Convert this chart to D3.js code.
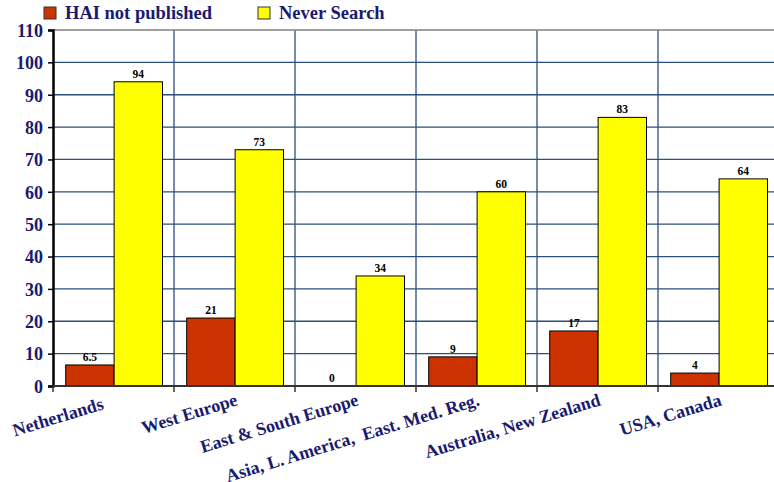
<!DOCTYPE html>
<html>
<head>
<meta charset="utf-8">
<script src="https://cdn.jsdelivr.net/npm/d3@7"></script>
<style>
  body { margin: 0; background: #fff; }
  text { font-family: "Liberation Serif", "DejaVu Serif", serif; font-weight: bold; }
</style>
</head>
<body>
<script>
// chart data
var regions = ["Netherlands   ", "West Europe", "East & South Europe",
  "Asia, L. America,  East. Med. Reg.", "Australia, New Zealand", "USA, Canada"];
var hai_not_published = [6.5, 21, 0, 9, 17, 4];
var never_search = [94, 73, 34, 60, 83, 64];
var series_names = ["HAI not published", "Never Search"];
var y_ticks = [0, 10, 20, 30, 40, 50, 60, 70, 80, 90, 100, 110];

var svg_width = 774;
var svg_height = 482;

// plot area (window.top is reserved, so use own names)
var plot_left = 53, plot_right = 779, plot_top = 30, plot_bottom = 386;
var navy = "#1a1a6e";
var colors = ["#cc3300", "#ffff00"];

var svg = d3.select("body")
  .append("svg")
  .attr("width", svg_width)
  .attr("height", svg_height);

// scales
var x_scale = d3.scaleBand()
  .domain(regions)
  .range([plot_left, plot_right]);

var y_scale = d3.scaleLinear()
  .domain([0, 110])
  .range([plot_bottom, plot_top]);

var bar_w = x_scale.bandwidth() * 0.4;
var pad = x_scale.bandwidth() * 0.105;

// horizontal gridlines
svg.selectAll(".hgrid")
  .data(y_ticks.slice(1, -1))
  .enter()
  .append("line")
  .attr("x1", plot_left).attr("x2", plot_right)
  .attr("y1", function(d) { return y_scale(d); })
  .attr("y2", function(d) { return y_scale(d); })
  .attr("stroke", "#2b4f7e")
  .attr("stroke-width", 1.3);

// vertical gridlines between categories
svg.selectAll(".vgrid")
  .data(regions.slice(1))
  .enter()
  .append("line")
  .attr("x1", function(d) { return x_scale(d); })
  .attr("x2", function(d) { return x_scale(d); })
  .attr("y1", plot_top).attr("y2", plot_bottom)
  .attr("stroke", "#2b4f7e")
  .attr("stroke-width", 1.3);

// top border
svg.append("line")
  .attr("x1", plot_left).attr("x2", plot_right)
  .attr("y1", plot_top).attr("y2", plot_top)
  .attr("stroke", "#808080")
  .attr("stroke-width", 1.5);

// bars
var series = [hai_not_published, never_search];
series.forEach(function(vals, s) {
  svg.selectAll(".bar" + s)
    .data(vals)
    .enter()
    .append("rect")
    .attr("x", function(d, i) { return x_scale(regions[i]) + pad + s * bar_w; })
    .attr("y", function(d) { return y_scale(d); })
    .attr("width", bar_w)
    .attr("height", function(d) { return plot_bottom - y_scale(d); })
    .attr("fill", colors[s])
    .attr("stroke", "#000")
    .attr("stroke-width", 1);

  svg.selectAll(".lab" + s)
    .data(vals)
    .enter()
    .append("text")
    .attr("x", function(d, i) { return x_scale(regions[i]) + pad + s * bar_w + bar_w / 2; })
    .attr("y", function(d) { return y_scale(d) - 4; })
    .attr("text-anchor", "middle")
    .attr("font-size", 11.5)
    .attr("fill", "#000")
    .text(function(d) { return d; });
});

// y axis
var y_axis = d3.axisLeft(y_scale).tickValues(y_ticks).tickSize(5).tickPadding(5);
var gy = svg.append("g")
  .attr("transform", "translate(" + plot_left + ",0)")
  .call(y_axis);
gy.select(".domain").attr("stroke", "#000").attr("stroke-width", 2.5);
gy.selectAll(".tick line").attr("stroke", "#000").attr("stroke-width", 1.5);
gy.selectAll(".tick text")
  .attr("font-size", 18)
  .attr("fill", navy)
  .attr("font-family", "Liberation Serif")
  .attr("dy", "0.35em");

// x axis (ticks at category boundaries)
svg.append("line")
  .attr("x1", plot_left).attr("x2", plot_right)
  .attr("y1", plot_bottom).attr("y2", plot_bottom)
  .attr("stroke", "#333")
  .attr("stroke-width", 2);
svg.selectAll(".xtick")
  .data(regions)
  .enter()
  .append("line")
  .attr("x1", function(d) { return x_scale(d); })
  .attr("x2", function(d) { return x_scale(d); })
  .attr("y1", plot_bottom).attr("y2", plot_bottom + 6)
  .attr("stroke", "#333")
  .attr("stroke-width", 1.5);

// rotated category labels
svg.selectAll(".xlab")
  .data(regions)
  .enter()
  .append("text")
  .attr("transform", function(d) {
    var cx = x_scale(d) + x_scale.bandwidth() / 2 + 4;
    return "translate(" + cx + "," + (plot_bottom + 19) + ") rotate(-17)";
  })
  .attr("text-anchor", "end")
  .attr("font-size", 18)
  .attr("fill", navy)
  .attr("xml:space", "preserve")
  .text(function(d) { return d; });

// legend
var legend_x = [44, 258];
series_names.forEach(function(name, s) {
  svg.append("rect")
    .attr("x", legend_x[s]).attr("y", 7)
    .attr("width", 12).attr("height", 12)
    .attr("fill", colors[s])
    .attr("stroke", "#333");
  svg.append("text")
    .attr("x", legend_x[s] + 21).attr("y", 19)
    .attr("font-size", 18.5)
    .attr("fill", navy)
    .text(name);
});
</script>
</body>
</html>
